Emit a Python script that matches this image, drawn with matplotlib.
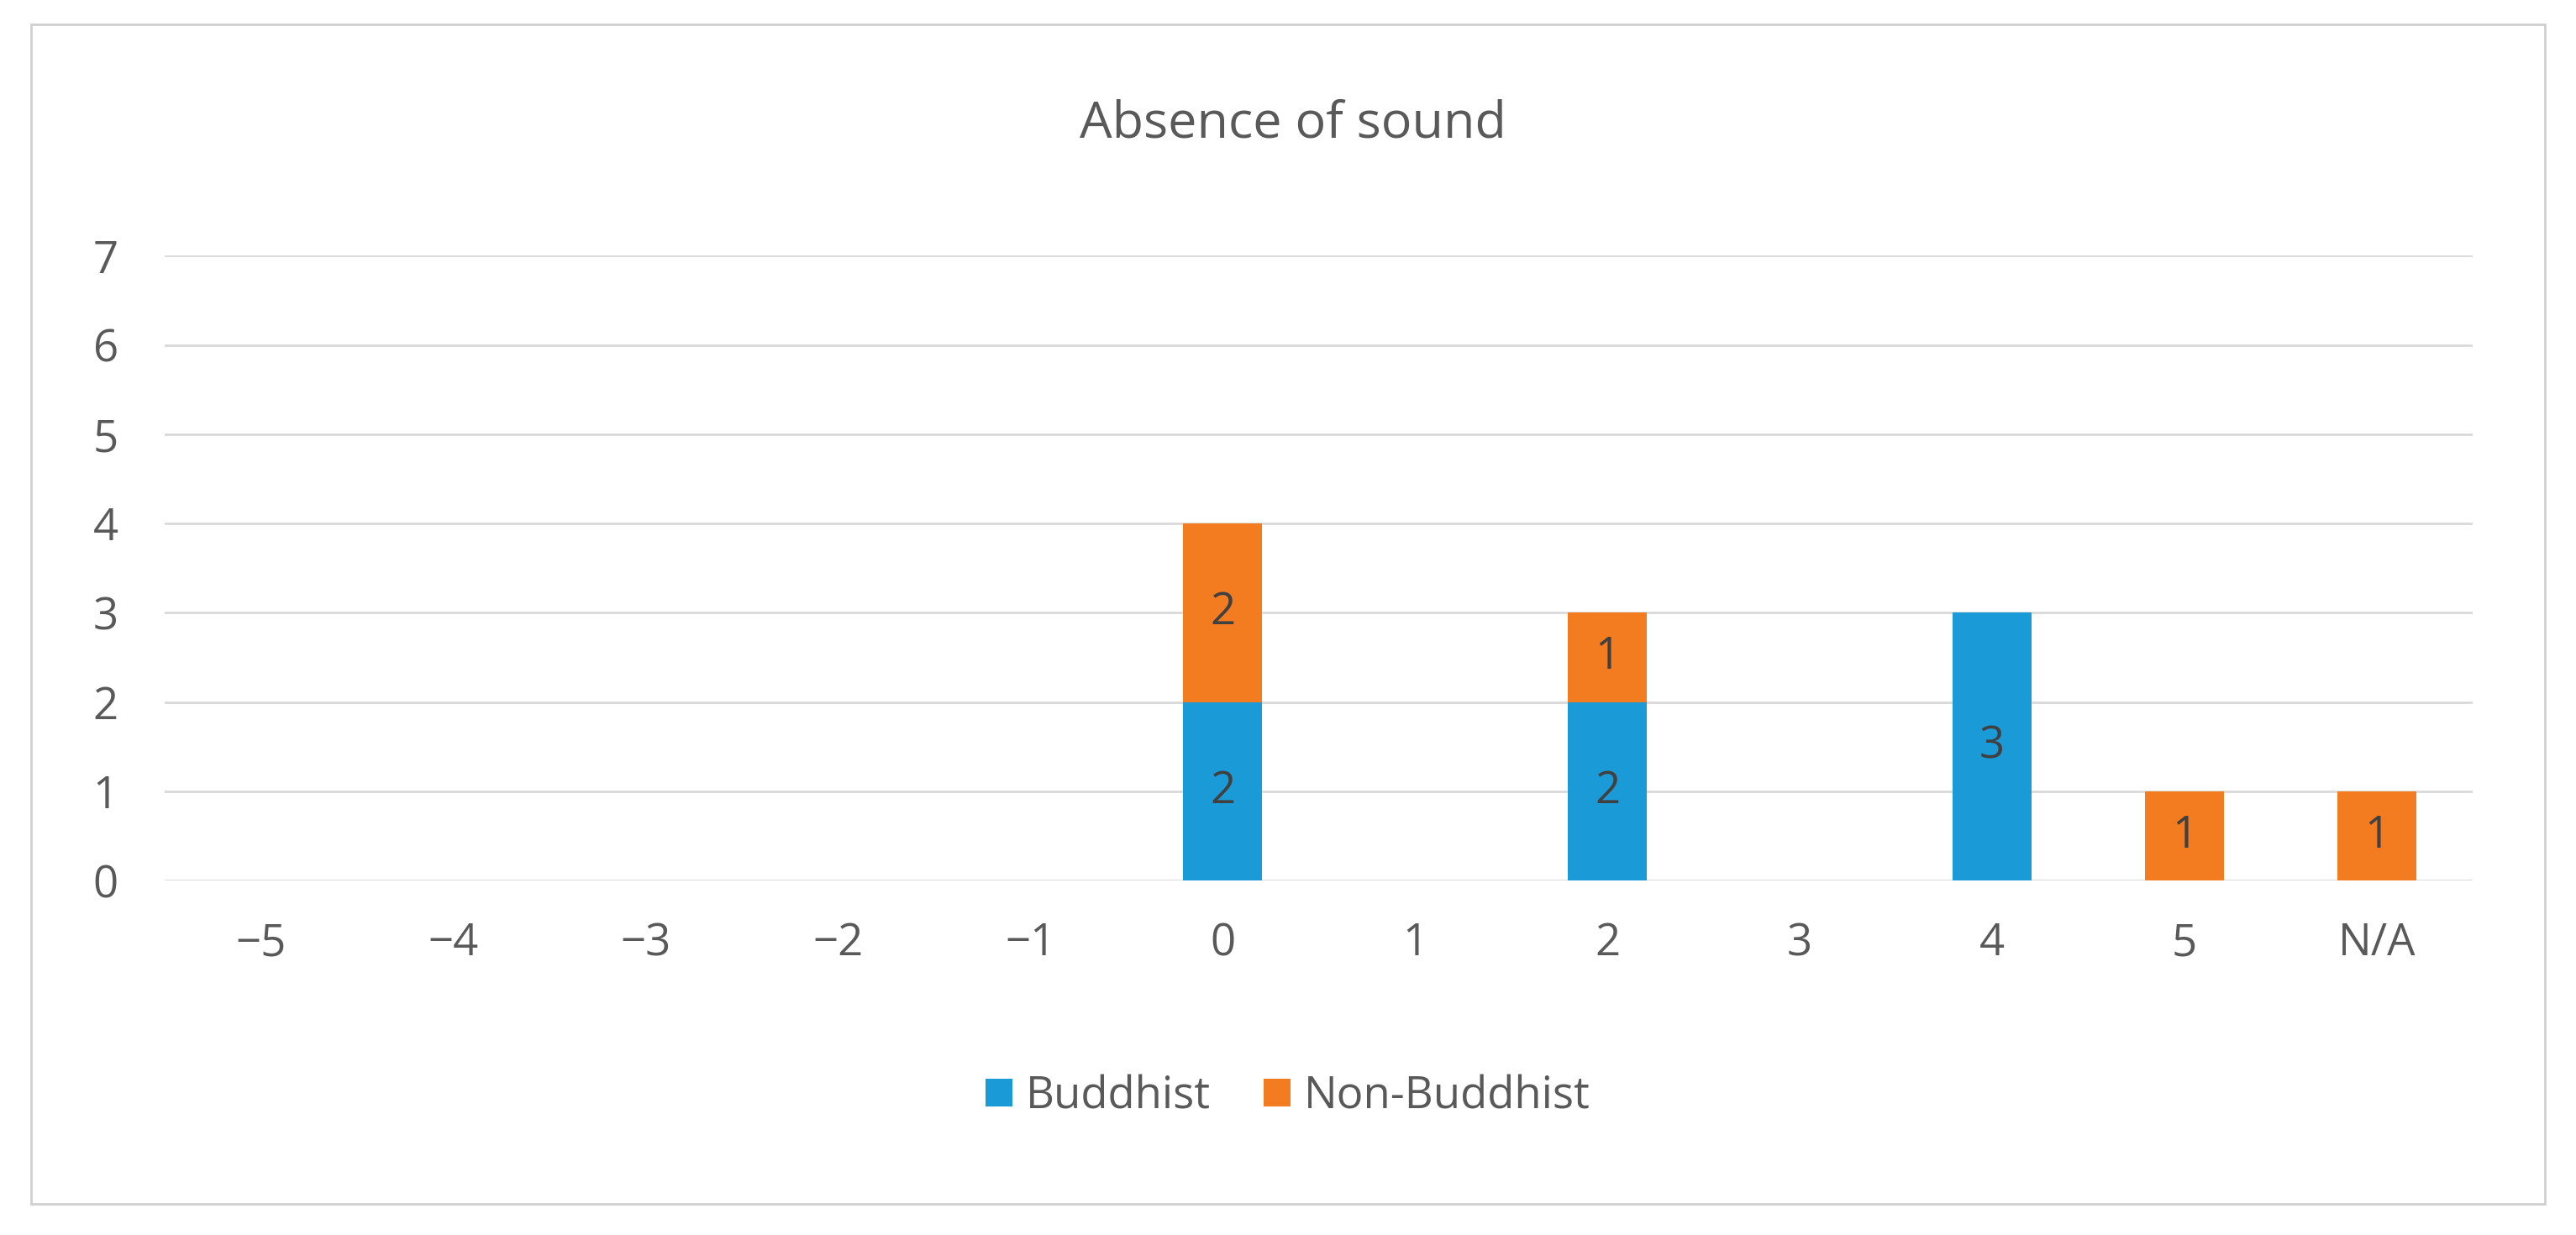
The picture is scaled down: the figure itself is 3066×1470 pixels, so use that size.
import matplotlib
matplotlib.use("Agg")
import matplotlib.pyplot as plt
from matplotlib.patches import Rectangle
import numpy as np

categories = ["\u22125", "\u22124", "\u22123", "\u22122", "\u22121", "0", "1", "2", "3", "4", "5", "N/A"]
buddhist = [0, 0, 0, 0, 0, 2, 0, 2, 0, 3, 0, 0]
non_buddhist = [0, 0, 0, 0, 0, 2, 0, 1, 0, 0, 1, 1]

plt.rcParams['font.family'] = ['Open Sans', 'DejaVu Sans']
grey = '#595959'
blue = '#1A9BD7'
orange = '#F47C20'

fig = plt.figure(figsize=(30.66, 14.7), dpi=100)
fig.patches.append(Rectangle((0.012, 0.025), 0.976, 0.955, transform=fig.transFigure,
                             fill=False, edgecolor='#D0D0D0', linewidth=2))
ax = fig.add_axes([0.064, 0.287, 0.896, 0.506])
x = np.arange(len(categories))
w = 0.41
b1 = ax.bar(x, buddhist, w, color=blue, label='Buddhist', zorder=3)
b2 = ax.bar(x, non_buddhist, w, bottom=buddhist, color=orange, label='Non-Buddhist', zorder=3)
for i in range(len(x)):
    if buddhist[i]:
        ax.text(x[i], buddhist[i] / 2, str(buddhist[i]), ha='center', va='center', fontsize=38, color='#404040', zorder=4)
    if non_buddhist[i]:
        ax.text(x[i], buddhist[i] + non_buddhist[i] / 2, str(non_buddhist[i]), ha='center', va='center', fontsize=38, color='#404040', zorder=4)
ax.set_xlim(-0.5, len(x) - 0.5)
ax.set_ylim(0, 7)
ax.set_yticks(range(8))
ax.set_xticks(x)
ax.set_xticklabels(categories)
ax.tick_params(axis='both', length=0, labelsize=38, colors=grey, pad=40)
ax.tick_params(axis='x', pad=35)
ax.grid(axis='y', color='#D9D9D9', linewidth=2, zorder=0)
for s in ax.spines.values():
    s.set_visible(False)
ax.axhline(0, color='#D9D9D9', linewidth=2, zorder=1)
fig.text(0.502, 0.9, 'Absence of sound', ha='center', va='center', fontsize=44, color=grey)
fig.legend(handles=[b1, b2], loc='center', bbox_to_anchor=(0.5, 0.112), ncol=2, frameon=False,
           fontsize=38, labelcolor=grey, handlelength=0.6, handleheight=0.6, handletextpad=0.3, columnspacing=1.2)
fig.savefig('out.png', dpi=100, facecolor='white')
